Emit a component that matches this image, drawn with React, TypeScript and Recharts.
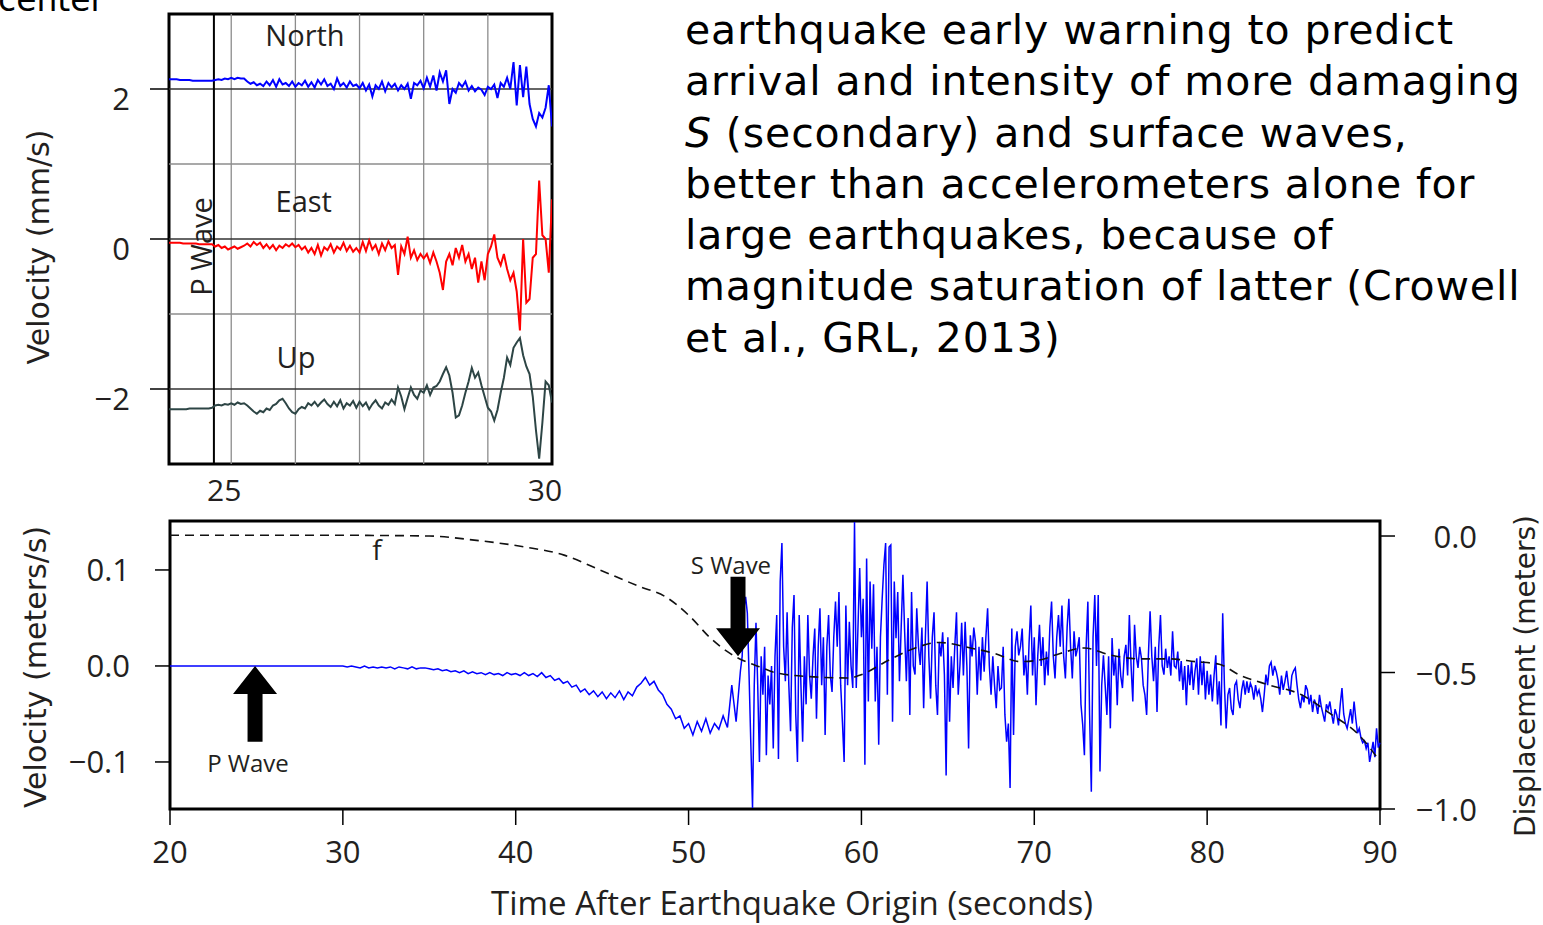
import { LineChart, Line, XAxis, YAxis, ReferenceLine, ReferenceArea, ReferenceDot } from 'recharts'

const CHART_FONT = '"Open Sans", "Liberation Sans", sans-serif'
const BODY_FONT = '"DejaVu Sans", Verdana, sans-serif'
const INK = '#231f20'

// top panel: GPS velocity (mm/s), 20 samples per second starting at 24.0 s
const TOP_T0 = 24.0
const TOP_DT = 0.05
const northVel = [
  2.13, 2.13, 2.13, 2.13, 2.12, 2.12, 2.12, 2.12, 2.11, 2.11, 2.11, 2.11, 2.11, 2.11, 2.11,
  2.12, 2.13, 2.12, 2.14, 2.13, 2.15, 2.13, 2.15, 2.14, 2.14,
  2.10, 2.07, 2.09, 2.05, 2.07, 2.04,
  2.10, 2.05, 2.12, 2.03, 2.13, 2.06, 2.08, 2.04, 2.10, 2.03,
  2.08, 2.05, 2.11, 2.03, 2.09, 2.02, 2.12, 2.06, 2.13, 2.04,
  2.07, 2.00, 2.14, 2.04, 2.08, 2.02, 2.10, 2.04, 2.06, 2.01,
  2.08, 1.98, 2.06, 1.90, 2.05, 2.00, 2.10, 1.97, 2.08, 2.02,
  2.07, 1.98, 2.05, 2.00, 2.07, 1.87, 2.08, 2.05, 2.11, 2.01,
  2.15, 2.03, 2.18, 1.98, 2.22, 2.10, 2.25, 1.80, 2.00, 1.95,
  2.08, 2.03, 2.10, 1.98, 2.04, 1.97, 2.02, 1.99, 1.92, 2.03,
  2.00, 2.06, 1.88, 2.08, 2.03, 2.15, 2.00, 2.36, 1.78, 2.32,
  1.89, 2.30, 1.80, 1.60, 1.50, 1.68, 1.62, 1.75, 2.05, 1.50,
]
const eastVel = [
  -0.05, -0.05, -0.05, -0.05, -0.05, -0.06, -0.06, -0.06, -0.06, -0.06, -0.07, -0.07, -0.07, -0.07, -0.07,
  -0.10, -0.08, -0.12, -0.10, -0.14, -0.12, -0.10, -0.13, -0.11, -0.09,
  -0.06, -0.10, -0.04, -0.08, -0.05, -0.12,
  -0.07, -0.13, -0.08, -0.15, -0.09, -0.12, -0.07, -0.10, -0.06, -0.11,
  -0.08, -0.14, -0.10, -0.18, -0.12, -0.20, -0.08, -0.22, -0.11, -0.15,
  -0.07, -0.18, -0.10, -0.14, -0.05, -0.16, -0.09, -0.17, -0.12, -0.18,
  -0.04, -0.16, -0.02, -0.14, -0.08, -0.20, -0.06, -0.15, -0.03, -0.12,
  -0.08, -0.48, -0.10, -0.20, 0.03, -0.25, -0.15, -0.28, -0.20, -0.26,
  -0.20, -0.32, -0.18, -0.30, -0.45, -0.68, -0.30, -0.20, -0.35, -0.12,
  -0.25, -0.08, -0.30, -0.20, -0.40, -0.25, -0.58, -0.30, -0.55, -0.20,
  -0.10, 0.06, -0.25, -0.35, -0.20, -0.40, -0.55, -0.45, -0.70, -1.22,
  0.00, -0.85, -0.80, -0.25, -0.20, 0.78, 0.05, 0.00, -0.45, 0.53,
]
const upVel = [
  -2.27, -2.27, -2.27, -2.27, -2.27, -2.27, -2.27, -2.26, -2.26, -2.26, -2.26, -2.26, -2.26, -2.26, -2.25,
  -2.22, -2.21, -2.22, -2.20, -2.21, -2.19, -2.21, -2.18, -2.20, -2.19,
  -2.22, -2.26, -2.30, -2.33, -2.29, -2.31,
  -2.26, -2.28, -2.22, -2.20, -2.15, -2.13, -2.19, -2.26, -2.31, -2.33,
  -2.27, -2.24, -2.26, -2.19, -2.22, -2.17, -2.23, -2.18, -2.14, -2.20,
  -2.24, -2.17, -2.23, -2.15, -2.26, -2.19, -2.22, -2.16, -2.25, -2.17,
  -2.23, -2.18, -2.27, -2.20, -2.15, -2.22, -2.26, -2.18, -2.21, -2.14,
  -2.20, -1.98, -2.10, -2.27, -2.12, -1.98, -2.08, -2.13, -2.02, -2.05,
  -1.95, -2.08, -1.98, -1.96, -1.90, -1.80, -1.71, -1.82, -2.05, -2.38,
  -2.35, -2.22, -2.05, -1.90, -1.72, -1.85, -1.78, -1.95, -2.10, -2.25,
  -2.30, -2.42, -2.28, -2.05, -1.85, -1.58, -1.68, -1.45, -1.38, -1.32,
  -1.55, -1.70, -1.80, -2.10, -2.55, -2.93, -2.45, -1.90, -1.95, -2.18,
]
const topTicksX = [25, 30]
const topGridX = [25, 26, 27, 28, 29]
const topMajorY = [2, 0, -2]
const topMinorY = [1, -1]
const pWaveTop = 24.73

// bottom panel: velocity (m/s), quiet until 30 s, then 4 samples/s, then 10 samples/s
const quietT = 20
const EARLY_T0 = 30
const EARLY_DT = 0.25
const velEarly = [
  0.000, -0.001, 0.000, -0.001, -0.002, 0.000, -0.002, -0.001, -0.002, -0.001,
  -0.002, -0.001, -0.003, -0.001, -0.002, -0.003, -0.001, -0.003, -0.002, -0.002,
  -0.003, -0.004, -0.003, -0.005, -0.004, -0.006, -0.005, -0.007, -0.005, -0.008,
  -0.006, -0.008, -0.007, -0.009, -0.007, -0.009, -0.008, -0.010, -0.007, -0.009,
  -0.008, -0.010, -0.007, -0.010, -0.008, -0.011, -0.007, -0.012, -0.010, -0.015,
  -0.013, -0.018, -0.016, -0.022, -0.020, -0.027, -0.024, -0.030, -0.026, -0.032,
  -0.027, -0.034, -0.028, -0.033, -0.026, -0.035, -0.027, -0.031, -0.022, -0.018,
  -0.012, -0.020, -0.016, -0.025, -0.030, -0.040, -0.045, -0.055, -0.052, -0.065,
  -0.060, -0.072, -0.058, -0.068, -0.055, -0.070, -0.060, -0.066, -0.052, -0.064,
  -0.020, -0.058,
]
const LATE_T0 = 53
const LATE_DT = 0.1
const velLate = [
  -0.005,
  0.010, 0.060, 0.072, 0.055, -0.010, -0.080, -0.148, -0.020, 0.045, -0.020,
  -0.100, 0.010, -0.030, 0.020, -0.093, -0.010, -0.040, 0.000, -0.086, 0.010,
  0.053, -0.097, 0.088, 0.128, 0.020, -0.016, 0.056, -0.020, -0.068, 0.040,
  0.074, -0.050, -0.100, 0.053, -0.020, -0.079, 0.010, -0.040, 0.053, -0.010,
  -0.034, 0.010, 0.039, -0.055, 0.020, 0.060, -0.020, 0.030, -0.072, 0.020,
  0.053, -0.010, -0.027, 0.030, 0.067, 0.020, 0.077, -0.020, -0.058, -0.100,
  0.063, -0.020, 0.046, 0.000, -0.023, 0.150, -0.023, 0.040, 0.102, 0.030,
  0.070, -0.103, 0.112, -0.037, 0.088, 0.018, 0.085, -0.037, 0.020, -0.082,
  0.030, 0.070, 0.105, 0.128, -0.030, 0.124, 0.126, -0.058, 0.088, 0.029,
  0.077, -0.016, 0.040, 0.095, 0.036, -0.016, 0.050, -0.051, 0.077, 0.000,
  -0.009, 0.060, 0.020, 0.001, 0.040, -0.044, 0.030, 0.088, 0.010, -0.034,
  0.030, 0.056, -0.020, -0.051, 0.025, 0.010, 0.035, -0.009, -0.114, 0.030,
  -0.058, 0.010, -0.023, 0.020, 0.056, -0.030, 0.001, 0.045, -0.010, 0.046,
  0.000, -0.086, 0.032, 0.010, 0.040, 0.025, -0.030, 0.020, -0.015, 0.030,
  -0.006, 0.030, 0.060, 0.000, -0.030, 0.010, -0.020, -0.044, 0.000, -0.025,
  -0.023, 0.020, -0.051, -0.079, -0.060, -0.127, 0.039, -0.072, 0.020, 0.036,
  0.011, 0.020, 0.039, -0.010, 0.011, -0.030, 0.025, 0.063, -0.010, 0.030,
  -0.041, 0.010, 0.043, 0.000, 0.030, -0.020, 0.015, -0.010, 0.040, 0.067,
  0.010, -0.013, 0.030, 0.053, 0.020, 0.063, 0.010, -0.013, 0.040, 0.070,
  0.020, -0.013, 0.036, 0.010, 0.018, 0.030, -0.040, -0.061, -0.093, 0.020,
  0.067, -0.051, -0.131, 0.030, 0.074, 0.000, 0.074, -0.110, -0.020, 0.011,
  -0.020, -0.051, 0.010, -0.065, 0.029, -0.010, 0.010, -0.041, 0.018, -0.010,
  -0.023, 0.010, 0.022, -0.010, 0.053, 0.000, -0.037, 0.043, 0.010, -0.002,
  0.020, 0.008, -0.020, -0.030, -0.051, 0.010, 0.057, 0.010, -0.016, 0.020,
  -0.048, 0.020, 0.053, 0.000, -0.009, 0.018, -0.002, 0.010, -0.010, 0.036,
  0.000, -0.002, 0.015, -0.016, 0.005, -0.025, 0.000, -0.041, 0.001, -0.020,
  0.005, -0.025, -0.005, 0.008, -0.030, 0.010, -0.020, 0.005, -0.035, -0.005,
  -0.030, -0.009, -0.037, -0.010, 0.011, -0.040, -0.016, -0.062, 0.055, -0.020,
  -0.065, -0.030, -0.023, -0.045, -0.051, -0.020, -0.016, -0.035, -0.044, -0.025,
  -0.015, -0.030, -0.016, -0.028, -0.018, -0.023, -0.035, -0.020, -0.030, -0.025,
  -0.034, -0.048, -0.030, -0.009, -0.020, 0.000, 0.004, -0.010, 0.000, -0.006,
  -0.015, -0.030, -0.010, -0.025, -0.016, -0.005, -0.020, -0.030, -0.010, -0.005,
  -0.002, -0.020, -0.035, -0.044, -0.030, -0.038, -0.020, -0.025, -0.040, -0.030,
  -0.048, -0.035, -0.040, -0.050, -0.030, -0.042, -0.050, -0.058, -0.040, -0.045,
  -0.037, -0.050, -0.060, -0.045, -0.051, -0.062, -0.040, -0.023, -0.050, -0.060,
  -0.065, -0.055, -0.045, -0.060, -0.037, -0.055, -0.070, -0.065, -0.075, -0.080,
  -0.078, -0.086, -0.080, -0.100, -0.090, -0.079, -0.095, -0.065, -0.085, -0.080,
]

// displacement (m), dashed curve "f"
const dispT = [20, 25, 30, 32, 35, 37.6, 40.5, 42.8, 44.9, 47.2, 48.6, 50.1, 51.2, 52.4, 53.3, 54.1, 55, 57, 59.3, 59.9, 61.6, 62.8, 64.5, 66.3, 67.7, 69.2, 70.3, 71.5, 72.9, 74.4, 76.1, 77.8, 79.3, 80.7, 81.9, 83.6, 85.4, 87.1, 88.8, 90]
const dispM = [0.003, 0.003, 0.003, 0.002, 0.0, -0.015, -0.04, -0.07, -0.125, -0.186, -0.22, -0.296, -0.37, -0.43, -0.46, -0.479, -0.5, -0.515, -0.52, -0.51, -0.454, -0.418, -0.39, -0.41, -0.43, -0.46, -0.454, -0.43, -0.41, -0.436, -0.45, -0.45, -0.46, -0.47, -0.51, -0.546, -0.58, -0.65, -0.73, -0.826]

const bottomTicksX = [20, 30, 40, 50, 60, 70, 80, 90]
const bottomMinorX = [25, 35, 45, 55, 65, 75, 85]
const velTicks = [0.1, 0, -0.1]
const dispTicks = [0, -0.5, -1]

const topData = northVel.map((north, i) => ({
  t: +(TOP_T0 + i * TOP_DT).toFixed(2),
  north,
  east: eastVel[i],
  up: upVel[i],
}))

const velData = [
  { t: quietT, v: 0 },
  ...velEarly.map((v, i) => ({ t: EARLY_T0 + i * EARLY_DT, v })),
  ...velLate.map((v, i) => ({ t: +(LATE_T0 + i * LATE_DT).toFixed(1), v })),
]
const dispData = dispT.map((t, i) => ({ t, d: dispM[i] }))

const signed = (v: number, digits: number) => {
  const s = Math.abs(v).toFixed(digits)
  return v < -1e-9 ? `\u2212${s}` : s
}

const TopXTick = ({ x, y, payload }: any) => (
  <text x={x - 7} y={y} dy="0.71em" textAnchor="middle" fontSize={30} fontFamily={CHART_FONT} fill={INK}>
    {payload.value}
  </text>
)

const TopYTick = ({ x, y, payload }: any) => (
  <text x={x} y={y + 9} textAnchor="end" dominantBaseline="central" fontSize={31} fontFamily={CHART_FONT} fill={INK}>
    {signed(payload.value, 0)}
  </text>
)

// right-hand axis labels are right aligned in the original
const DispTick = ({ x, y, payload }: any) => (
  <text x={x + 72} y={y} textAnchor="end" dominantBaseline="central" fontSize={31} fontFamily={CHART_FONT} fill={INK}>
    {signed(payload.value, 1)}
  </text>
)

// rotated axis title, placed inside the axis box
const sideTitle = (text: string, fromLeft: number, shiftY: number, size: number) => (props: any) => {
  const vb = props.viewBox
  const cx = vb.x + fromLeft
  const cy = vb.y + vb.height / 2 + shiftY
  return (
    <text
      x={cx}
      y={cy}
      transform={`rotate(-90 ${cx} ${cy})`}
      textAnchor="middle"
      dominantBaseline="central"
      fontSize={size}
      fontFamily={BODY_FONT}
      fill={INK}
    >
      {text}
    </text>
  )
}

const bottomTitle = (props: any) => {
  const vb = props.viewBox
  return (
    <text
      x={vb.x + vb.width / 2 + 17}
      y={vb.y + vb.height - 10}
      textAnchor="middle"
      fontSize={33}
      fontFamily={CHART_FONT}
      fill={INK}
    >
      Time After Earthquake Origin (seconds)
    </text>
  )
}

function textShape(label: string, size: number, rotate = false) {
  return (p: any) => (
    <text
      x={p.cx}
      y={p.cy}
      textAnchor="middle"
      dominantBaseline={rotate ? 'alphabetic' : 'central'}
      transform={rotate ? `rotate(-90 ${p.cx} ${p.cy})` : undefined}
      fontSize={size}
      fontFamily={CHART_FONT}
      fill={INK}
    >
      {label}
    </text>
  )
}

function BlockArrow(props: any) {
  const { x1, y1, x2, y2 } = props
  const dir = y2 > y1 ? 1 : -1
  const shaft = 7.5
  const head = 22
  const hy = y2 - dir * 28
  const pts = [
    [x1 - shaft, y1], [x1 + shaft, y1], [x1 + shaft, hy], [x1 + head, hy],
    [x2, y2], [x1 - head, hy], [x1 - shaft, hy],
  ].map((p) => p.join(',')).join(' ')
  return <polygon points={pts} fill="#000" />
}

function TopPanel() {
  return (
    <LineChart width={600} height={520} data={topData} margin={{ top: 14, right: 0, bottom: 0, left: 0 }}>
      <XAxis
        dataKey="t"
        type="number"
        domain={[24.03, 30]}
        allowDataOverflow
        ticks={topTicksX}
        tickSize={0}
        tickMargin={16}
        tickLine={false}
        axisLine={false}
        height={56}
        tick={<TopXTick />}
      />
      <XAxis
        xAxisId="top"
        orientation="top"
        dataKey="t"
        type="number"
        domain={[24.03, 30]}
        ticks={topTicksX}
        tick={false}
        tickSize={9}
        tickLine={{ stroke: '#000', strokeWidth: 1.5 }}
        axisLine={false}
        height={0}
      />
      <YAxis
        type="number"
        domain={[-3, 3]}
        ticks={topMajorY}
        width={169}
        tickSize={19}
        tickMargin={20}
        tickLine={{ stroke: '#000', strokeWidth: 1.5 }}
        axisLine={false}
        tick={<TopYTick />}
        label={sideTitle('Velocity (mm/s)', 38, 8, 30)}
      />
      <YAxis
        yAxisId="r"
        orientation="right"
        type="number"
        domain={[-3, 3]}
        ticks={topMajorY}
        width={48}
        tickSize={18}
        tick={false}
        tickLine={{ stroke: '#000', strokeWidth: 1.5 }}
        axisLine={false}
      />
      {topGridX.map((g) => (
        <ReferenceLine key={`gx${g}`} x={g} stroke="#8c8c8c" strokeWidth={1.3} />
      ))}
      {topMinorY.map((g) => (
        <ReferenceLine key={`gy${g}`} y={g} stroke="#8c8c8c" strokeWidth={1.3} />
      ))}
      {topMajorY.map((g) => (
        <ReferenceLine key={`my${g}`} y={g} stroke="#333" strokeWidth={1.3} />
      ))}
      <ReferenceLine x={pWaveTop} stroke="#000" strokeWidth={2} />
      <Line dataKey="north" stroke="#0000ff" strokeWidth={2} dot={false} type="linear" isAnimationActive={false} />
      <Line dataKey="east" stroke="#ff0000" strokeWidth={2} dot={false} type="linear" isAnimationActive={false} />
      <Line dataKey="up" stroke="#2d4545" strokeWidth={2} dot={false} type="linear" isAnimationActive={false} />
      <ReferenceArea x1={24.03} x2={30} y1={-3} y2={3} fill="none" stroke="#000" strokeWidth={3} />
      <ReferenceDot x={26.15} y={2.73} r={0} shape={textShape('North', 29)} />
      <ReferenceDot x={26.13} y={0.52} r={0} shape={textShape('East', 29)} />
      <ReferenceDot x={26.01} y={-1.56} r={0} shape={textShape('Up', 29)} />
      <ReferenceDot x={24.7} y={-0.1} r={0} shape={textShape('P Wave', 29, true)} />
    </LineChart>
  )
}

function BottomPanel() {
  return (
    <LineChart width={1543} height={445} margin={{ top: 41, right: 0, bottom: 0, left: 0 }}>
      <XAxis
        dataKey="t"
        type="number"
        domain={[20, 90]}
        ticks={bottomTicksX}
        tickSize={16}
        tickMargin={16}
        tickLine={{ stroke: '#000', strokeWidth: 1.5 }}
        axisLine={false}
        height={116}
        tick={{ fontSize: 31, fontFamily: CHART_FONT, fill: INK }}
        label={bottomTitle}
      />
      <XAxis
        xAxisId="minor"
        dataKey="t"
        type="number"
        domain={[20, 90]}
        ticks={bottomMinorX}
        tickSize={6}
        tick={false}
        tickLine={{ stroke: '#000', strokeWidth: 1.5 }}
        axisLine={false}
        height={0}
      />
      <YAxis
        yAxisId="v"
        type="number"
        domain={[-0.149, 0.151]}
        allowDataOverflow
        ticks={velTicks}
        width={170}
        tickSize={15}
        tickMargin={25}
        tickLine={{ stroke: '#000', strokeWidth: 1.5 }}
        axisLine={false}
        tickFormatter={(v: number) => signed(v, 1)}
        tick={{ fontSize: 31, fontFamily: CHART_FONT, fill: INK }}
        label={sideTitle('Velocity (meters/s)', 35, 2, 30)}
      />
      <YAxis
        yAxisId="d"
        orientation="right"
        type="number"
        domain={[-1, 0.055]}
        allowDataOverflow
        ticks={dispTicks}
        width={163}
        tickSize={15}
        tickMargin={10}
        tickLine={{ stroke: '#000', strokeWidth: 1.5 }}
        axisLine={false}
        tick={<DispTick />}
        label={sideTitle('Displacement (meters)', 145, 11, 28)}
      />
      <Line
        data={velData}
        dataKey="v"
        yAxisId="v"
        stroke="#0000ff"
        strokeWidth={1.5}
        dot={false}
        type="linear"
        isAnimationActive={false}
      />
      <Line
        data={dispData}
        dataKey="d"
        yAxisId="d"
        stroke="#111"
        strokeWidth={1.6}
        strokeDasharray="9 6"
        dot={false}
        type="monotone"
        isAnimationActive={false}
      />
      <ReferenceArea yAxisId="v" x1={20} x2={90} y1={-0.149} y2={0.151} fill="none" stroke="#000" strokeWidth={3} />
      <ReferenceLine yAxisId="v" segment={[{ x: 24.92, y: -0.079 }, { x: 24.92, y: 0 }]} shape={BlockArrow} />
      <ReferenceLine yAxisId="v" segment={[{ x: 52.86, y: 0.093 }, { x: 52.86, y: 0.01 }]} shape={BlockArrow} />
      <ReferenceDot yAxisId="v" x={31.97} y={0.122} r={0} shape={textShape('f', 28)} />
      <ReferenceDot yAxisId="v" x={52.45} y={0.106} r={0} shape={textShape('S Wave', 24)} />
      <ReferenceDot yAxisId="v" x={24.51} y={-0.101} r={0} shape={textShape('P Wave', 24)} />
    </LineChart>
  )
}

const lineStyle = { whiteSpace: 'nowrap' as const }

export default function App() {
  return (
    <div
      style={{
        position: 'absolute',
        left: 0,
        top: 0,
        width: 1543,
        height: 925,
        overflow: 'hidden',
        background: '#fff',
      }}
    >
      <div
        style={{
          position: 'absolute',
          left: -2,
          top: -26,
          fontFamily: BODY_FONT,
          fontSize: 33,
          lineHeight: '51.3px',
          color: '#000',
        }}
      >
        center
      </div>
      <div style={{ position: 'absolute', left: 0, top: 480 }}>
        <BottomPanel />
      </div>
      <div style={{ position: 'absolute', left: 0, top: 0 }}>
        <TopPanel />
      </div>
      <div
        style={{
          position: 'absolute',
          left: 685,
          top: 5,
          fontFamily: BODY_FONT,
          fontSize: 41,
          letterSpacing: '0.9px',
          lineHeight: '51.3px',
          color: '#000',
        }}
      >
        <div style={lineStyle}>earthquake early warning to predict</div>
        <div style={lineStyle}>arrival and intensity of more damaging</div>
        <div style={lineStyle}>
          <i>S</i> (secondary) and surface waves,
        </div>
        <div style={lineStyle}>better than accelerometers alone for</div>
        <div style={lineStyle}>large earthquakes, because of</div>
        <div style={lineStyle}>magnitude saturation of latter (Crowell</div>
        <div style={lineStyle}>et al., GRL, 2013)</div>
      </div>
    </div>
  )
}
